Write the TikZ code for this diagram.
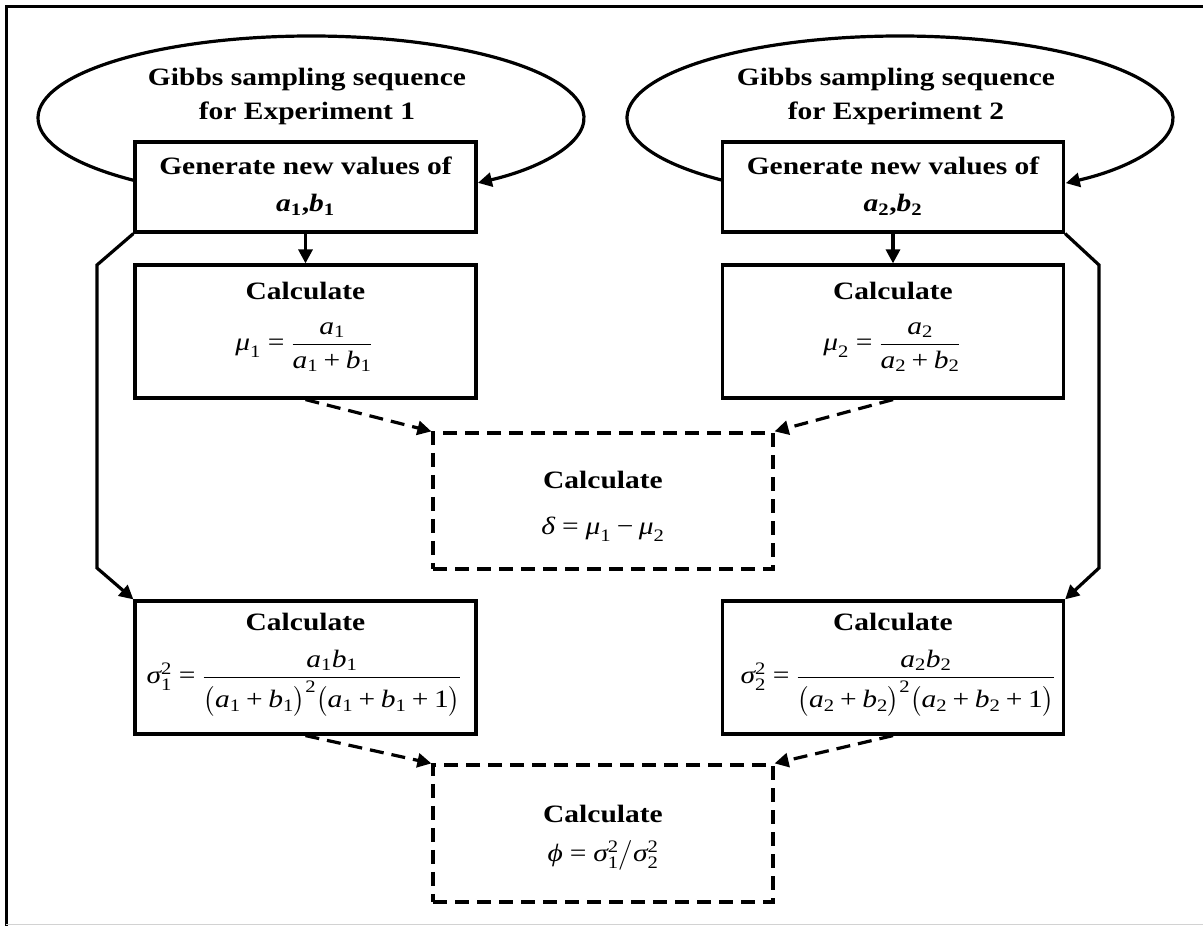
\documentclass[tikz,border=0pt]{standalone}
\usepackage{amsmath}
\usepackage{fontspec}
\setmainfont{Liberation Serif}[FakeStretch=1.18]
\usetikzlibrary{arrows.meta}

% italic and upright symbols in the text face, usable inside math
\newcommand{\vit}[1]{\text{\normalfont\itshape #1}}
\newcommand{\vup}[1]{\text{\normalfont #1}}
\newcommand{\eqs}{\mathrel{\vup{=}}}
\newcommand{\pls}{\mathbin{\vup{+}}}
\newcommand{\mns}{\mathbin{\vup{−}}}

\begin{document}
\begin{tikzpicture}[x=1pt,y=1pt,
  boxline/.style={line width=3.2pt},
  solidbox/.style={draw, boxline, inner sep=0pt, minimum width=341pt},
  dashbox/.style={solidbox, minimum width=340pt, dash pattern=on 14pt off 8pt},
  txt/.style={anchor=base, inner sep=0pt, font=\fontsize{25}{30}\selectfont\bfseries},
  mth/.style={anchor=base, inner sep=0pt, font=\fontsize{25}{30}\selectfont},
  link/.style={boxline, -{Triangle[length=14pt,width=14pt]}},
  dlink/.style={link, dash pattern=on 14pt off 8pt},
]
\useasboundingbox (0,0) rectangle (1203,926);

% outer frame
\draw[line width=3pt] (1210,919) -- (6,919) -- (6,-5);
\draw[line width=1pt, gray!35] (6,1) -- (1210,1);

% ---- experiment 1 column ----
\node[solidbox, minimum height=90pt]  (g1) at (305.5,739) {};
\node[solidbox, minimum height=133pt] (m1) at (305.5,594.5) {};
\node[solidbox, minimum height=133pt] (s1) at (305.5,258.5) {};

\node[txt] (g1a) at (305.5,751) {Generate new values of};
\node[txt] (g1b) at (305.5,714) {$\text{\itshape a}_{\text{\upshape 1}}$,$\text{\itshape b}_{\text{\upshape 1}}$};
\node[txt] (m1a) at (305.5,626) {Calculate};
\node[mth] (m1b) at (304,575)
  {$\vit{μ}_{\vup{1}} \eqs \dfrac{\vit{a}_{\vup{1}}}{\vit{a}_{\vup{1}} \pls \vit{b}_{\vup{1}}}$};
\node[txt] (s1a) at (305.5,295) {Calculate};
\node[mth] (s1b) at (304,242)
  {$\vit{σ}_{\vup{1}}^{\vup{2}} \eqs \dfrac{\vit{a}_{\vup{1}}\vit{b}_{\vup{1}}}{\bigl(\vit{a}_{\vup{1}} \pls \vit{b}_{\vup{1}}\bigr)^{\vup{2}}\bigl(\vit{a}_{\vup{1}} \pls \vit{b}_{\vup{1}} \pls \vup{1}\bigr)}$};

% ---- experiment 2 column ----
\node[solidbox, minimum height=90pt]  (g2) at (893,739) {};
\node[solidbox, minimum height=133pt] (m2) at (893,594.5) {};
\node[solidbox, minimum height=133pt] (s2) at (893,258.5) {};

\node[txt] (g2a) at (893,751) {Generate new values of};
\node[txt] (g2b) at (893,714) {$\text{\itshape a}_{\text{\upshape 2}}$,$\text{\itshape b}_{\text{\upshape 2}}$};
\node[txt] (m2a) at (893,626) {Calculate};
\node[mth] (m2b) at (892,575)
  {$\vit{μ}_{\vup{2}} \eqs \dfrac{\vit{a}_{\vup{2}}}{\vit{a}_{\vup{2}} \pls \vit{b}_{\vup{2}}}$};
\node[txt] (s2a) at (893,295) {Calculate};
\node[mth] (s2b) at (898,242)
  {$\vit{σ}_{\vup{2}}^{\vup{2}} \eqs \dfrac{\vit{a}_{\vup{2}}\vit{b}_{\vup{2}}}{\bigl(\vit{a}_{\vup{2}} \pls \vit{b}_{\vup{2}}\bigr)^{\vup{2}}\bigl(\vit{a}_{\vup{2}} \pls \vit{b}_{\vup{2}} \pls \vup{1}\bigr)}$};

% ---- combined quantities ----
\node[dashbox, minimum height=136pt] (d) at (603,425) {};
\node[txt] (da) at (603,437) {Calculate};
\node[mth] (db) at (603,391) {$\vit{δ} \eqs \vit{μ}_{\vup{1}} \mns \vit{μ}_{\vup{2}}$};

\node[dashbox, minimum height=137pt] (p) at (603,92.5) {};
\node[txt] (pa) at (603,103) {Calculate};
\node[mth] (pb) at (603,64) {$\vit{ϕ} \eqs \vit{σ}_{\vup{1}}^{\vup{2}}\big/\vit{σ}_{\vup{2}}^{\vup{2}}$};

% ---- Gibbs sampling loops ----
\coordinate (e1) at (311,808);
\coordinate (e2) at (900,808);
\node[txt] (l1a) at (307,840) {Gibbs sampling sequence};
\node[txt] (l1b) at (307,806) {for Experiment 1};
\node[txt] (l2a) at (896,840) {Gibbs sampling sequence};
\node[txt] (l2b) at (896,806) {for Experiment 2};
\draw[link] ([shift={(229.8:273 and 82)}]e1)
  arc[start angle=229.8, end angle=-52.3, x radius=273, y radius=82];
\draw[link] ([shift={(229.3:273 and 82)}]e2)
  arc[start angle=229.3, end angle=-52.6, x radius=273, y radius=82];

% ---- connectors ----
\coordinate (lt) at (97,661);
\coordinate (lb) at (97,358);
\coordinate (rt) at (1099,661);
\coordinate (rb) at (1099,358);
\draw[link] (g1.south) -- (m1.north);
\draw[link] (g2.south) -- (m2.north);
\draw[link] (g1.south west) -- (lt) -- (lb) -- (s1.north west);
\draw[link] (g2.south east) -- (rt) -- (rb) -- (s2.north east);
\draw[dlink] (m1.south) -- (d.north west);
\draw[dlink] (m2.south) -- (d.north east);
\draw[dlink] (s1.south) -- (p.north west);
\draw[dlink] (s2.south) -- (p.north east);
\end{tikzpicture}
\end{document}
